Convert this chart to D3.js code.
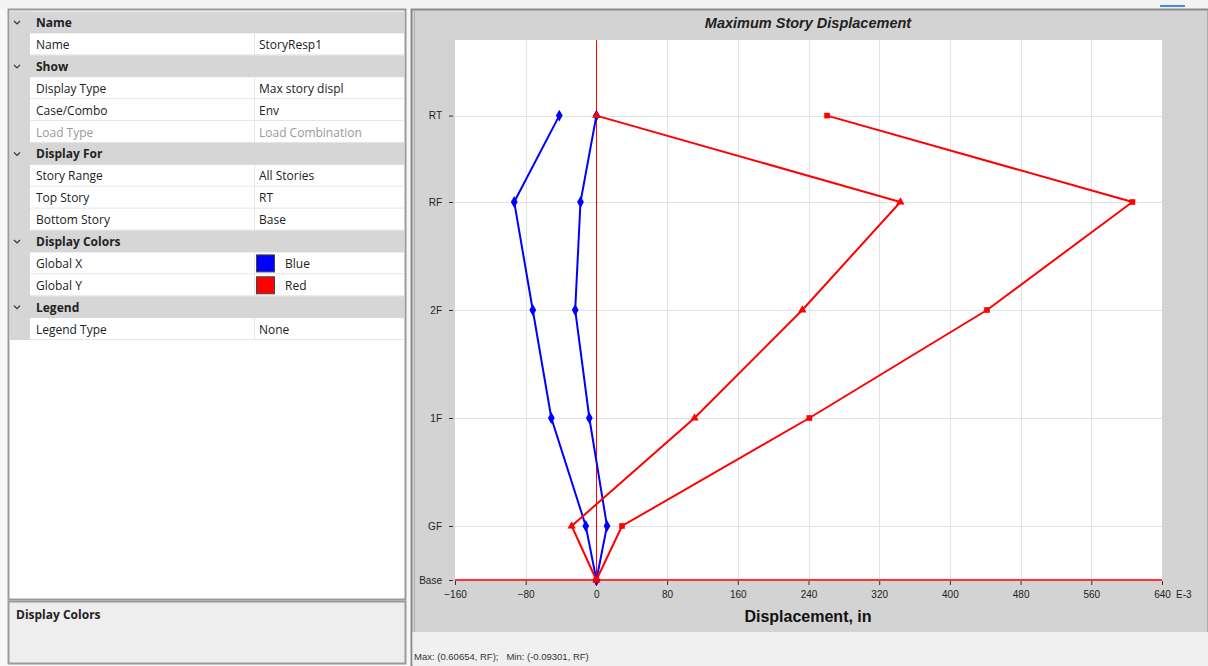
<!DOCTYPE html>
<html>
<head>
<meta charset="utf-8">
<script src="https://cdn.jsdelivr.net/npm/d3@7"></script>
<style>
  body { margin: 0; background: #f7f7f7; }
  svg { display: block; }
  .prop { font-family: "Open Sans", "Noto Sans", sans-serif; font-size: 12px; fill: #222; }
  .chart-text { font-family: "Liberation Sans", Arial, sans-serif; }
</style>
</head>
<body>
<div id="vis-container"></div>
<script>
// ---- data ----
// property grid rows: [type, label, value]
var propRows = [
    ["h", "Name", ""],
    ["r", "Name", "StoryResp1"],
    ["h", "Show", ""],
    ["r", "Display Type", "Max story displ"],
    ["r", "Case/Combo", "Env"],
    ["d", "Load Type", "Load Combination"],
    ["h", "Display For", ""],
    ["r", "Story Range", "All Stories"],
    ["r", "Top Story", "RT"],
    ["r", "Bottom Story", "Base"],
    ["h", "Display Colors", ""],
    ["c", "Global X", "Blue"],
    ["c", "Global Y", "Red"],
    ["h", "Legend", ""],
    ["r", "Legend Type", "None"]
];

var stories = ["Base", "GF", "1F", "2F", "RF", "RT"];
var storyElev = [0, 5, 15, 25, 35, 43];   // relative elevations
var xTicks = [-160, -80, 0, 80, 160, 240, 320, 400, 480, 560, 640];

// displacements in E-3 in, listed Base -> RT
var globalX1 = [0, -12, -51, -72, -93, -42];
var globalX2 = [0, 12, -8, -24, -18, 0];
var globalY1 = [0, -28, 111, 233, 344, 0];
var globalY2 = [0, 29, 241, 442, 606.5, 261];

var width = 1208, height = 666;
var svg = d3.select("#vis-container").append("svg")
    .attr("width", width).attr("height", height);

// top strip
svg.append("rect").attr("x", 0).attr("y", 0).attr("width", width).attr("height", 9).attr("fill", "#f3f3f3");
svg.append("rect").attr("x", 1160).attr("y", 5).attr("width", 25).attr("height", 2).attr("fill", "#3c8fe0");

// ---- left property panel ----
var panel = svg.append("g");
panel.append("rect").attr("x", 8.5).attr("y", 9.5).attr("width", 397).attr("height", 590)
    .attr("fill", "#fff").attr("stroke", "#9a9a9a").attr("stroke-width", 2);
var rowH = 21.9, rowTop = 11.5, valX = 254;
panel.append("rect").attr("x", 10).attr("y", rowTop).attr("width", 20)
    .attr("height", rowH * propRows.length).attr("fill", "#d6d6d6");

propRows.forEach(function(r, i) {
    var y = rowTop + i * rowH;
    if (r[0] === "h") {
        panel.append("rect").attr("x", 10).attr("y", y).attr("width", 394).attr("height", rowH).attr("fill", "#d6d6d6");
        panel.append("path").attr("d", "M14," + (y + 9.5) + " l3,3 l3,-3")
            .attr("fill", "none").attr("stroke", "#333").attr("stroke-width", 1.2);
        panel.append("text").attr("class", "prop").attr("x", 36).attr("y", y + 15.5)
            .attr("font-weight", "bold").text(r[1]);
    } else {
        panel.append("line").attr("x1", 30).attr("x2", 404).attr("y1", y + rowH - 0.5).attr("y2", y + rowH - 0.5)
            .attr("stroke", "#e6e6e6");
        panel.append("line").attr("x1", valX + 0.5).attr("x2", valX + 0.5).attr("y1", y).attr("y2", y + rowH)
            .attr("stroke", "#e6e6e6");
        var fill = r[0] === "d" ? "#9a9a9a" : "#222";
        panel.append("text").attr("class", "prop").attr("x", 36).attr("y", y + 15.5).style("fill", fill).text(r[1]);
        var tx = valX + 5;
        if (r[0] === "c") {
            panel.append("rect").attr("x", valX + 2.5).attr("y", y + 2.5).attr("width", 18).attr("height", 17)
                .attr("fill", r[2] === "Blue" ? "#0000ff" : "#ff0000").attr("stroke", "#444");
            tx = valX + 31;
        }
        panel.append("text").attr("class", "prop").attr("x", tx).attr("y", y + 15.5).style("fill", fill).text(r[2]);
    }
});

// description box
panel.append("rect").attr("x", 8.5).attr("y", 601.5).attr("width", 397).attr("height", 62)
    .attr("fill", "#eeeeee").attr("stroke", "#9a9a9a").attr("stroke-width", 2);
panel.append("text").attr("class", "prop").attr("x", 16).attr("y", 619)
    .attr("font-weight", "bold").text("Display Colors");

// ---- chart panel ----
svg.append("rect").attr("x", 411.5).attr("y", 9.5).attr("width", 797).attr("height", 656)
    .attr("fill", "#d3d3d3").attr("stroke", "#8a8a8a").attr("stroke-width", 2);
svg.append("line").attr("x1", 414.5).attr("x2", 414.5).attr("y1", 11).attr("y2", 632)
    .attr("stroke", "#b0b0b0");
svg.append("rect").attr("x", 412.5).attr("y", 632).attr("width", 796).attr("height", 34)
    .attr("fill", "#f0f0f0");
svg.append("text").attr("class", "chart-text").attr("x", 414).attr("y", 660)
    .attr("font-size", 9.5).attr("fill", "#333")
    .text("Max: (0.60654, RF);   Min: (-0.09301, RF)").attr("xml:space", "preserve");

svg.append("text").attr("class", "chart-text").attr("x", 808).attr("y", 28)
    .attr("text-anchor", "middle").attr("font-size", 14.5).attr("font-weight", "bold")
    .attr("font-style", "italic").attr("fill", "#222").text("Maximum Story Displacement");

var margins = { left: 455, top: 40, right: 1162, bottom: 580 };
var xScale = d3.scaleLinear().domain([-160, 640]).range([margins.left, margins.right]);
var yScale = d3.scaleLinear().domain([0, 50]).range([margins.bottom, margins.top]);

var plot = svg.append("g");
plot.append("rect").attr("x", margins.left).attr("y", margins.top)
    .attr("width", margins.right - margins.left).attr("height", margins.bottom - margins.top).attr("fill", "#fff");

// grid
plot.selectAll(".vgrid").data(xTicks.slice(1, -1)).enter().append("line")
    .attr("x1", d => Math.round(xScale(d)) + 0.5).attr("x2", d => Math.round(xScale(d)) + 0.5)
    .attr("y1", margins.top).attr("y2", margins.bottom).attr("stroke", "#e2e2e2");
plot.selectAll(".hgrid").data(storyElev.slice(1)).enter().append("line")
    .attr("x1", margins.left).attr("x2", margins.right)
    .attr("y1", d => Math.round(yScale(d)) + 0.5).attr("y2", d => Math.round(yScale(d)) + 0.5)
    .attr("stroke", "#e2e2e2");

// zero line and base line
plot.append("line").attr("x1", Math.round(xScale(0)) + 0.5).attr("x2", Math.round(xScale(0)) + 0.5)
    .attr("y1", margins.top).attr("y2", margins.bottom).attr("stroke", "#ff0000").attr("stroke-width", 1);
plot.append("line").attr("x1", margins.left).attr("x2", margins.right)
    .attr("y1", margins.bottom).attr("y2", margins.bottom).attr("stroke", "#ff3333").attr("stroke-width", 2);

// axes
var xAxis = svg.append("g").attr("class", "chart-text")
    .attr("transform", "translate(0," + (margins.bottom + 1) + ")")
    .call(d3.axisBottom(xScale).tickValues(xTicks).tickSize(4).tickPadding(4));
var yAxis = svg.append("g").attr("class", "chart-text")
    .attr("transform", "translate(" + (margins.left - 2) + ",0)")
    .call(d3.axisLeft(yScale).tickValues(storyElev).tickSize(4).tickPadding(7)
        .tickFormat((d, i) => stories[i]));
[xAxis, yAxis].forEach(function(a) {
    a.select(".domain").remove();
    a.selectAll(".tick line").attr("stroke", "#333");
    a.selectAll(".tick text").attr("fill", "#222").attr("font-size", 10)
        .attr("font-family", "'Liberation Sans', Arial, sans-serif");
});
xAxis.selectAll(".tick text").attr("dy", "0.9em");
svg.append("text").attr("class", "chart-text").attr("x", 1176).attr("y", 598)
    .attr("font-size", 10).attr("fill", "#222").text("E-3");
svg.append("text").attr("class", "chart-text").attr("x", 808).attr("y", 622)
    .attr("text-anchor", "middle").attr("font-size", 16).attr("font-weight", "bold")
    .attr("fill", "#111").text("Displacement, in");

// series
var lineGen = d3.line()
    .x(d => xScale(d[0]))
    .y(d => yScale(d[1]));

var series = [
    { vals: globalX1, color: "#0000ff", sym: d3.symbolDiamond, size: 40 },
    { vals: globalX2, color: "#0000ff", sym: d3.symbolDiamond, size: 40 },
    { vals: globalY1, color: "#ff0000", sym: d3.symbolTriangle, size: 30 },
    { vals: globalY2, color: "#ff0000", sym: d3.symbolSquare, size: 32 }
];
series.forEach(function(s) {
    var pts = s.vals.map((v, i) => [v, storyElev[i]]);
    plot.append("path").attr("d", lineGen(pts)).attr("fill", "none")
        .attr("stroke", s.color).attr("stroke-width", 2);
    plot.selectAll(null).data(pts).enter().append("path")
        .attr("transform", d => "translate(" + xScale(d[0]) + "," + yScale(d[1]) + ")")
        .attr("d", d3.symbol().type(s.sym).size(s.size))
        .attr("fill", s.color);
});
</script>
</body>
</html>
